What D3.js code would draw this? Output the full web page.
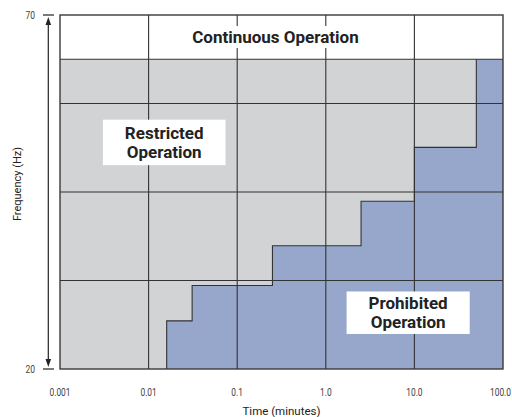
<!DOCTYPE html>
<html><head><meta charset="utf-8">
<script src="https://cdn.jsdelivr.net/npm/d3@7"></script>
<style>
html,body{margin:0;padding:0;background:#fff;}
svg{display:block;font-family:Roboto,"DejaVu Sans",sans-serif;}
</style></head>
<body><svg id="c" width="512" height="417"></svg>
<script>
// ---- data ----
const xTickValues = [0.001, 0.01, 0.1, 1, 10, 100];
const xTickLabels = ["0.001", "0.01", "0.1", "1.0", "10.0", "100.0"];
const yTickValues = [20, 70];
const yTickLabels = ["20", "70"];
const yGridValues = [32.5, 45, 57.5, 63.75];
const restrictedTop = 63.75;
const stepTimes = [0.016, 0.031, 0.25, 2.5, 10, 50];
const stepFreqs = [26.8, 31.8, 37.4, 43.7, 51.3, 63.75];
const continuousLabel = ["Continuous Operation"];
const restrictedLabel = ["Restricted", "Operation"];
const prohibitedLabel = ["Prohibited", "Operation"];
const xTitle = "Time (minutes)";
const yTitle = "Frequency (Hz)";

// ---- layout ----
const svg = d3.select("#c");
const x = d3.scaleLog().domain([0.001, 100]).range([60, 503]);
const y = d3.scaleLinear().domain([20, 70]).range([369, 15]);
const [x0, x1] = x.range();
const [yb, yt] = y.range();
const lineCol = "#333";
const grayFill = "#d2d3d5";
const blueFill = "#97a7cb";

// restricted band (gray)
svg.append("rect")
  .attr("x", x0).attr("y", y(restrictedTop))
  .attr("width", x1 - x0).attr("height", yb - y(restrictedTop))
  .attr("fill", grayFill);

// prohibited region (blue staircase)
const pts = [[stepTimes[0], 20]];
stepTimes.forEach((t, i) => {
  pts.push([t, stepFreqs[i]]);
  const next = i + 1 < stepTimes.length ? stepTimes[i + 1] : 100;
  pts.push([next, stepFreqs[i]]);
});
const poly = pts.concat([[100, 20]]);
const line = d3.line().x(d => x(d[0])).y(d => y(d[1]));
svg.append("path").attr("d", line(poly) + "Z").attr("fill", blueFill);

// gridlines
svg.append("g").selectAll("line").data(xTickValues.slice(1, -1)).join("line")
  .attr("x1", d => x(d)).attr("x2", d => x(d))
  .attr("y1", yt).attr("y2", yb)
  .attr("stroke", lineCol).attr("stroke-width", 1.1);
svg.append("g").selectAll("line").data(yGridValues).join("line")
  .attr("x1", x0).attr("x2", x1)
  .attr("y1", d => y(d)).attr("y2", d => y(d))
  .attr("stroke", lineCol).attr("stroke-width", 1.1);

// staircase outline
svg.append("path").attr("d", line(pts.slice(0, -1)))
  .attr("fill", "none").attr("stroke", lineCol).attr("stroke-width", 1.1);

// border
svg.append("rect").attr("x", x0).attr("y", yt)
  .attr("width", x1 - x0).attr("height", yb - yt)
  .attr("fill", "none").attr("stroke", "#3a3a3a").attr("stroke-width", 1.4);

// region labels with white boxes
function label(lines, cx, cy, padX, padY, lh) {
  const g = svg.append("g");
  const rect = g.append("rect").attr("fill", "#fff");
  const n = lines.length;
  const t = g.append("text")
    .attr("text-anchor", "middle")
    .attr("font-size", 17).attr("font-weight", 700).attr("fill", "#222");
  lines.forEach((s, i) => {
    t.append("tspan").attr("x", x(cx))
      .attr("y", y(cy) + (i - (n - 1) / 2) * lh + 6)
      .text(s);
  });
  const bb = t.node().getBBox();
  rect.attr("x", bb.x - padX).attr("y", bb.y - padY)
    .attr("width", bb.width + 2 * padX).attr("height", bb.height + 2 * padY);
}
label(continuousLabel, 0.27, 66.9, 6, 1, 19);
label(restrictedLabel, 0.015, 52.0, 22, 3, 19.5);
label(prohibitedLabel, 8.5, 27.95, 22, 2, 18.5);

// y axis with arrows
const ax = 48.3;
svg.append("line").attr("x1", ax).attr("x2", ax)
  .attr("y1", y(70) + 6).attr("y2", y(20) - 6)
  .attr("stroke", "#222").attr("stroke-width", 1.2);
svg.append("path")
  .attr("d", `M${ax},${y(70) + 2} L${ax - 2.8},${y(70) + 10} L${ax + 2.8},${y(70) + 10}Z`)
  .attr("fill", "#222");
svg.append("path")
  .attr("d", `M${ax},${y(20) - 2} L${ax - 2.8},${y(20) - 10} L${ax + 2.8},${y(20) - 10}Z`)
  .attr("fill", "#222");
svg.append("g").selectAll("line").data(yTickValues).join("line")
  .attr("x1", 43).attr("x2", 54)
  .attr("y1", d => y(d)).attr("y2", d => y(d))
  .attr("stroke", "#222").attr("stroke-width", 1.2);
svg.append("g").selectAll("text").data(yTickValues).join("text")
  .attr("transform", d => `translate(35,${y(d)}) scale(0.85,1)`)
  .attr("dy", "0.35em")
  .attr("text-anchor", "end").attr("font-size", 10).attr("fill", "#444")
  .text((d, i) => yTickLabels[i]);

// x tick labels (condensed)
svg.append("g").selectAll("text").data(xTickValues).join("text")
  .attr("transform", (d, i) => `translate(${x(d) - (i === xTickValues.length - 1 ? 2.5 : 0)},395.5) scale(0.8,1)`)
  .attr("text-anchor", "middle").attr("font-size", 10.5).attr("fill", "#444")
  .text((d, i) => xTickLabels[i]);

// axis titles
svg.append("text").attr("x", (x0 + x1) / 2).attr("y", 415)
  .attr("text-anchor", "middle").attr("font-size", 11.5).attr("fill", "#222")
  .text(xTitle);
svg.append("text")
  .attr("transform", `translate(21,184) rotate(-90)`)
  .attr("text-anchor", "middle").attr("font-size", 11).attr("fill", "#222")
  .text(yTitle);
</script></body></html>
